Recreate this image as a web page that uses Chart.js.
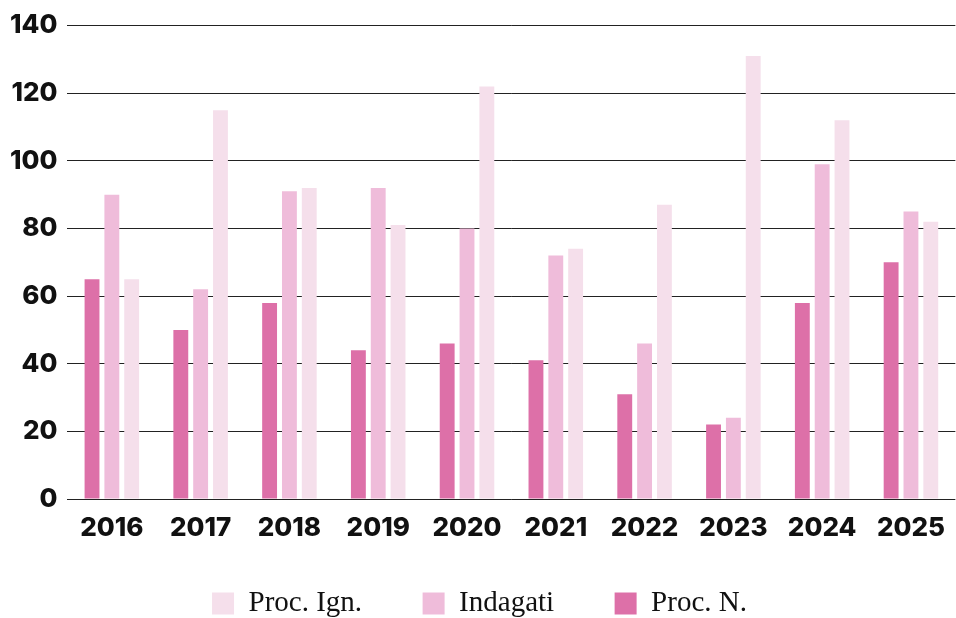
<!DOCTYPE html>
<html>
<head>
<meta charset="utf-8">
<script src="https://cdn.jsdelivr.net/npm/chart.js@4"></script>
<style>
    html, body { margin: 0; padding: 0; background: #fff; overflow: hidden; }
    #wrap { width: 959px; height: 628px; }
</style>
</head>
<body>
<div id="wrap"><canvas id="chart"></canvas></div>
<script>
    // Chart data.
    var years = ['2016', '2017', '2018', '2019', '2020', '2021', '2022', '2023', '2024', '2025'];
    var procN = [65, 50, 58, 44, 46, 41, 31, 22, 58, 70];
    var indagati = [90, 62, 91, 92, 80, 72, 46, 24, 99, 85];
    var procIgn = [65, 115, 92, 81, 122, 74, 87, 131, 112, 82];
    var yTicks = [0, 20, 40, 60, 80, 100, 120, 140];

    var tickFont = { family: 'Inter', size: 26, weight: '800' };

    new Chart(document.getElementById('chart').getContext('2d'), {
        type: 'bar',
        data: {
            labels: years,
            datasets: [
                { label: 'Proc. N.', data: procN, backgroundColor: '#dd70a8' },
                { label: 'Indagati', data: indagati, backgroundColor: '#efbcda' },
                { label: 'Proc. Ign.', data: procIgn, backgroundColor: '#f5dfeb' }
            ]
        },
        options: {
            responsive: true,
            maintainAspectRatio: false,
            animation: false,
            categoryPercentage: 0.67,
            barPercentage: 0.75,
            layout: { padding: { top: 11, right: 0, left: 0, bottom: 0 } },
            plugins: {
                tooltip: { enabled: false },
                legend: {
                    position: 'bottom',
                    reverse: true,
                    labels: {
                        color: '#111',
                        boxWidth: 22,
                        boxHeight: 22,
                        padding: 46,
                        font: { family: 'Liberation Serif', size: 29 },
                        // Extra trailing space widens the gap between items.
                        generateLabels: function(chart) {
                            var items = Chart.defaults.plugins.legend.labels.generateLabels(chart);
                            items.forEach(function(item) {
                                if (item.datasetIndex > 0) {
                                    item.text = item.text + '  ';
                                }
                            });
                            return items;
                        }
                    }
                }
            },
            scales: {
                x: {
                    grid: { display: false, drawTicks: false },
                    border: { display: false },
                    ticks: { color: '#111', font: tickFont, padding: 14 },
                    afterFit: function(scale) {
                        scale.height = 44;
                    }
                },
                y: {
                    min: 0,
                    max: 140,
                    afterBuildTicks: function(axis) {
                        axis.ticks = yTicks.map(function(v) { return { value: v }; });
                    },
                    grid: { color: '#222', lineWidth: 1, drawTicks: false },
                    border: { display: false },
                    ticks: { color: '#111', font: tickFont, padding: 10 }
                }
            }
        }
    });
</script>
</body>
</html>
